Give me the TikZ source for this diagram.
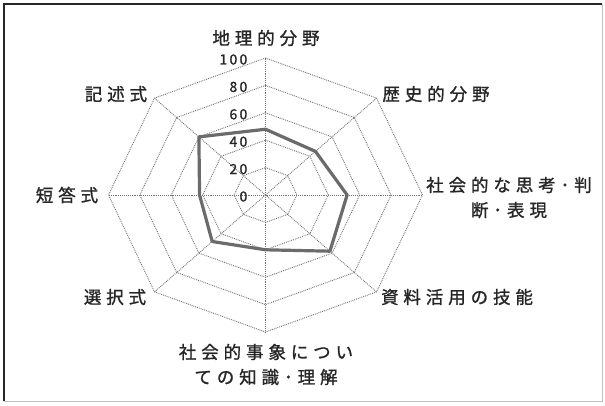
\documentclass[tikz,border=0pt]{standalone}
\usepackage{fontspec}
\setmainfont{Noto Sans CJK JP}
\newfontfamily\labelfont{Noto Sans CJK JP}[LetterSpace=28, FakeBold=1.2]
\newfontfamily\tickfont{Noto Sans CJK JP}[LetterSpace=16, FakeBold=1]
\tikzset{
	gridline/.style={densely dotted, line width=.9pt, black!55},
	series/.style={line width=3.2pt, black!58, line join=round},
	axislabel/.style={font=\labelfont\fontsize{17.5}{25}\selectfont, text=black!85, inner sep=0pt, align=center},
	ticklabel/.style={font=\tickfont\fontsize{14}{15}\selectfont, text=black!85, inner sep=0pt, anchor=east},
}
\begin{document}
\begin{tikzpicture}[x=1pt,y=-1pt]
	\useasboundingbox (0,0) rectangle (605,405);
	% frame
	\draw [line width=2.6pt, black!85] (4,401) -- (4,4) -- (602,4);
	\draw [line width=.8pt, black!25] (602,4) -- (602,401) -- (4,401);
	\begin{scope}[shift={(265.5,195)}, x=1.57pt, y=1.37pt]
		\foreach \r in {20, 40, 60, 80, 100} {
			\draw [gridline] (90:\r) -- (45:\r) -- (0:\r) -- (-45:\r) -- (-90:\r) -- (-135:\r) -- (180:\r) -- (135:\r) -- cycle;
		}
		\foreach \a in {90, 45, 0, -45, -90, -135, 180, 135} {
			\draw [gridline] (0,0) -- (\a:100);
		}
		\foreach \r in {0, 20, 40, 60, 80, 100} {
			\node [ticklabel] (tick\r) at ([xshift=-18pt, yshift=-1.5pt]0,\r) {\r};
		}
		\draw [series] (90:48) -- (45:45) -- (0:52) -- (-45:58) -- (-90:40) -- (-135:48) -- (180:42) -- (135:60) -- cycle;
	\end{scope}
	\node [axislabel] (geo)   at (266,38)    {地理的分野};
	\node [axislabel] (hist)  at (436,94)    {歴史的分野};
	\node [axislabel] (think) at (509,197.5) {社会的な思考･判\\断･表現};
	\node [axislabel] (skill) at (457,297)   {資料活用の技能};
	\node [axislabel] (know)  at (266,364.5) {社会的事象につい\\ての知識･理解};
	\node [axislabel] (sel)   at (115,297)   {選択式};
	\node [axislabel] (short) at (67,195)    {短答式};
	\node [axislabel] (desc)  at (116,94)    {記述式};
\end{tikzpicture}
\end{document}
